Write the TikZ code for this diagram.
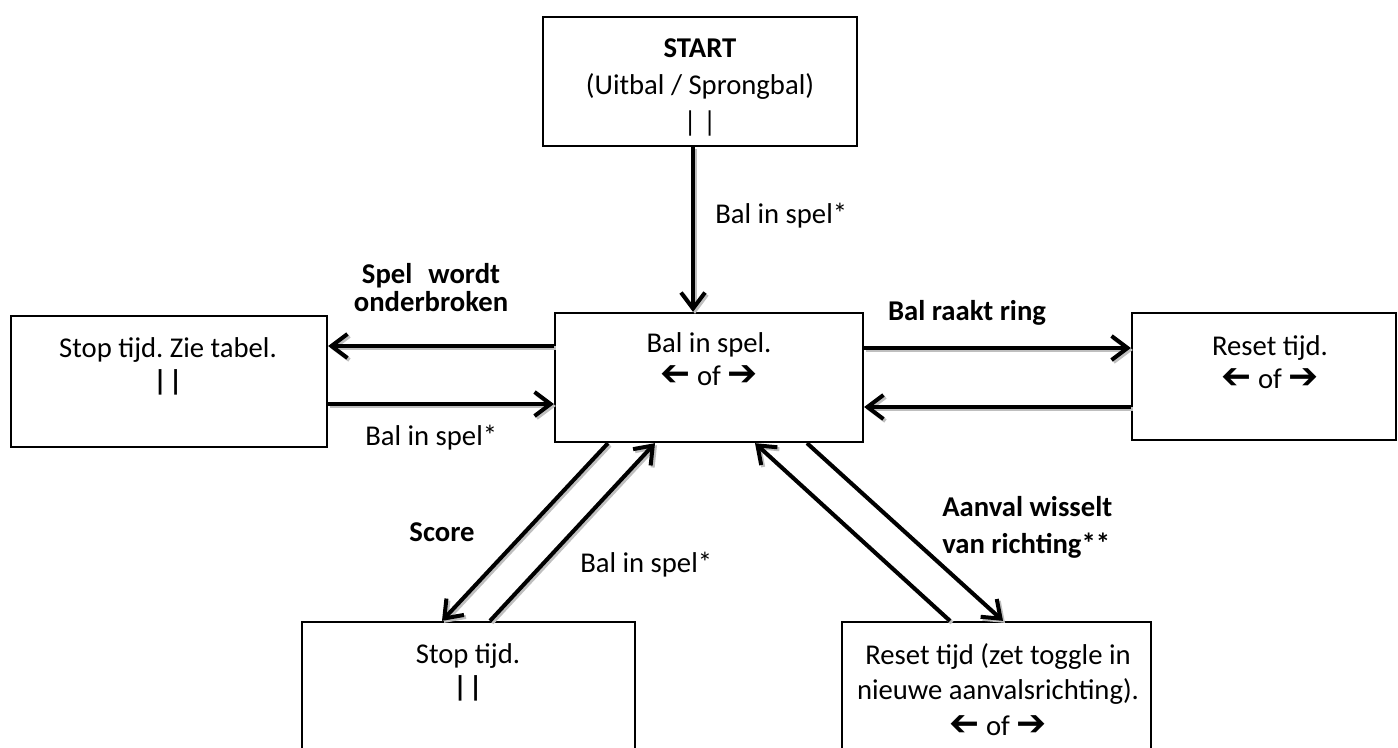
\documentclass[tikz,border=0pt]{standalone}
\usepackage{fontspec}
\usepackage{graphicx}
\setmainfont{Carlito}
\newfontfamily\arrfont{DejaVu Sans}
\usetikzlibrary{arrows.meta}
\newcommand{\rarr}{{\arrfont\fontsize{27}{24.75}\selectfont ➔}}
\newcommand{\larr}{\reflectbox{\rarr}}
\newcommand{\bars}{{\bfseries |\kern1.5pt|}}
\frenchspacing
\begin{document}
\begin{tikzpicture}[x=0.75pt,y=-0.75pt,
  font=\fontsize{21.5}{24.75}\selectfont,
  box/.style={draw, line width=1.7pt, inner sep=0},
  txt/.style={inner sep=0, align=center, anchor=north},
  lbl/.style={inner sep=0, anchor=base},
  conn/.style={line width=3pt, -{Straight Barb[length=12pt,width=18pt]},
    preaction={draw=gray!50, line width=3pt, transform canvas={shift={(1.5pt,-1.5pt)}}}}]
\useasboundingbox (0,0) rectangle (1398,747);
% boxes
\node[box, minimum width=235.5pt, minimum height=96.75pt] (start) at (700,81.5) {};
\node[box, minimum width=231pt, minimum height=96.75pt] (ctr) at (709,377.5) {};
\node[box, minimum width=237pt, minimum height=98.25pt] (left) at (169,381.5) {};
\node[box, minimum width=198pt, minimum height=95.25pt] (right) at (1264,376.5) {};
\node[box, minimum width=249.75pt, minimum height=111pt] (bl) at (468.5,696) {};
\node[box, minimum width=231.75pt, minimum height=111pt] (br) at (996.5,696) {};
% box texts
\node[txt] (tstart) at (700,38) {\textbf{START}\\[3pt](Uitbal / Sprongbal)\\[3pt]| |};
\node[txt] (tctr) at (709,332) {Bal in spel.\\\larr{} of \rarr};
\node[txt] (tleft) at (168,337) {Stop tijd. Zie tabel.\\\bars};
\node[txt] (tright) at (1270,335) {Reset tijd.\\\larr{} of \rarr};
\node[txt] (tbl) at (468,643) {Stop tijd.\\\bars};
\node[txt] (tbr) at (998,643) {Reset tijd (zet toggle in\\[2pt]nieuwe aanvalsrichting).\\[2pt]\larr{} of \rarr};
% connectors
\draw[conn] (start.south -| 693,0) -- (ctr.north -| 693,0);
\draw[conn] (ctr.west |- 0,346) -- (left.east |- 0,346);
\draw[conn] (left.east |- 0,404) -- (ctr.west |- 0,404);
\draw[conn] (ctr.east |- 0,348) -- (right.west |- 0,348);
\draw[conn] (right.west |- 0,407) -- (ctr.east |- 0,407);
\draw[conn] (ctr.south -| 608,0) -- (bl.north -| 442,0);
\draw[conn] (bl.north -| 490,0) -- (ctr.south -| 655,0);
\draw[conn] (br.north -| 950,0) -- (ctr.south -| 755,0);
\draw[conn] (ctr.south -| 807,0) -- (br.north -| 1003,0);
% labels
\node[lbl, anchor=base west] (l1) at (715,223) {Bal in spel*};
\node[lbl] (l2) at (431,283) {\textbf{Spel\kern12pt wordt}};
\node[lbl] (l3) at (431,311) {\textbf{onderbroken}};
\node[lbl] (l4) at (967,320) {\textbf{Bal raakt ring}};
\node[lbl, anchor=base west] (l5) at (365,445) {Bal in spel*};
\node[lbl] (l6) at (442,541) {\textbf{Score}};
\node[lbl, anchor=base west] (l7) at (580,572) {Bal in spel*};
\node[lbl, anchor=base west] (l8) at (942,516) {\textbf{Aanval wisselt}};
\node[lbl, anchor=base west] (l9) at (942,553) {\textbf{van richting**}};
\end{tikzpicture}
\end{document}
